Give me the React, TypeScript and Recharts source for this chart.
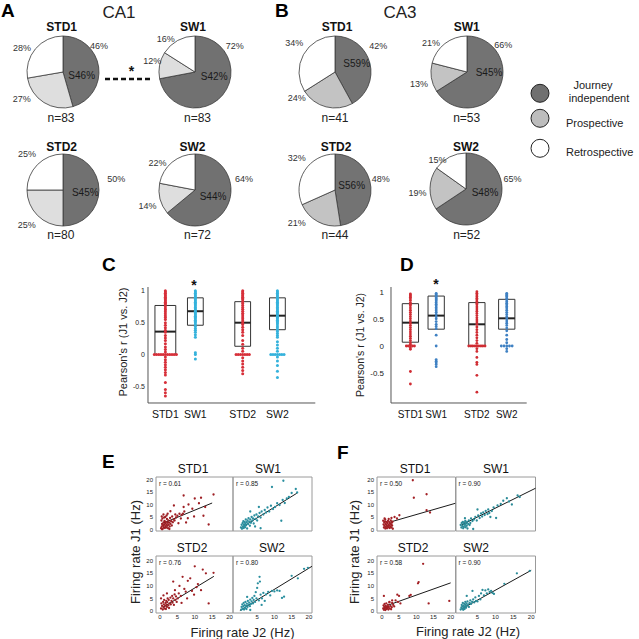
import React from 'react';
import {
  PieChart, Pie, Cell, ComposedChart, ScatterChart, Scatter,
  XAxis, YAxis, ReferenceArea, ReferenceLine,
} from 'recharts';

const FONT = "'Liberation Sans', Arial, Helvetica, sans-serif";

// ---------------- Panel A / B : pie data ----------------
const pieCategories = ['Journey independent', 'Prospective', 'Retrospective'];
const sessionNames = ['STD1', 'SW1', 'STD2', 'SW2'];

const ca1Std1 = [46, 27, 28];
const ca1Sw1 = [72, 12, 16];
const ca1Std2 = [50, 25, 25];
const ca1Sw2 = [64, 14, 22];
const ca1N = [83, 83, 80, 72];
const ca1S = [46, 42, 45, 44];

const ca3Std1 = [42, 24, 34];
const ca3Sw1 = [66, 13, 21];
const ca3Std2 = [48, 21, 32];
const ca3Sw2 = [65, 19, 15];
const ca3N = [41, 53, 44, 52];
const ca3S = [59, 45, 56, 48];

// ---------------- Panel C / D : Pearson's r ----------------
const boxGroups = ['STD1', 'SW1', 'STD2', 'SW2'];
const groupSlots = [1, 1.95, 3.45, 4.55];
const rTicks = [-0.5, 0, 0.5, 1];

const cQ1 = [0.0, 0.46, 0.13, 0.39];
const cMed = [0.36, 0.68, 0.5, 0.61];
const cQ3 = [0.77, 0.89, 0.83, 0.89];
const cStd1 = [1.0, 0.98, 0.96, 0.94, 0.92, 0.9, 0.88, 0.86, 0.84, 0.82, 0.8, 0.78, 0.75, 0.72, 0.7, 0.67, 0.64, 0.61, 0.58, 0.55, 0.5, 0.46, 0.42, 0.38, 0.35, 0.3, 0.26, 0.22, 0.17, 0.12, 0.08, 0.04, -0.04, -0.08, -0.12, -0.16, -0.2, -0.24, -0.28, -0.32, -0.44, -0.55, -0.6, -0.65];
const cSw1 = [1.0, 0.98, 0.96, 0.94, 0.92, 0.9, 0.88, 0.86, 0.84, 0.82, 0.8, 0.78, 0.76, 0.74, 0.72, 0.7, 0.68, 0.66, 0.64, 0.62, 0.6, 0.58, 0.56, 0.54, 0.52, 0.5, 0.47, 0.44, 0.41, 0.38, 0.35, 0.31, 0.27, 0.03, 0.0, -0.07];
const cStd2 = [1.0, 0.98, 0.96, 0.94, 0.92, 0.9, 0.88, 0.86, 0.83, 0.8, 0.77, 0.74, 0.71, 0.68, 0.65, 0.62, 0.59, 0.56, 0.53, 0.5, 0.47, 0.43, 0.39, 0.35, 0.3, 0.22, 0.16, 0.1, 0.05, -0.05, -0.1, -0.15, -0.2, -0.25, -0.3];
const cSw2 = [1.0, 0.98, 0.96, 0.94, 0.92, 0.9, 0.88, 0.86, 0.84, 0.82, 0.8, 0.78, 0.76, 0.74, 0.72, 0.7, 0.68, 0.66, 0.64, 0.62, 0.6, 0.58, 0.56, 0.54, 0.52, 0.5, 0.48, 0.45, 0.42, 0.39, 0.36, 0.33, 0.3, 0.27, 0.2, 0.15, 0.1, 0.05, -0.04, -0.1, -0.17, -0.26, -0.36];
const cZeroStd1 = [-0.35, -0.28, -0.21, -0.14, -0.07, 0, 0.07, 0.14, 0.21, 0.28, 0.35];
const cZeroSw1: number[] = [];
const cZeroStd2 = [-0.21, -0.14, -0.07, 0, 0.07, 0.14, 0.21];
const cZeroSw2 = [-0.21, -0.14, -0.07, 0, 0.07, 0.14, 0.21];

const dQ1 = [0.07, 0.31, 0.0, 0.31];
const dMed = [0.43, 0.56, 0.4, 0.51];
const dQ3 = [0.78, 0.92, 0.8, 0.86];
const dStd1 = [0.96, 0.94, 0.92, 0.9, 0.87, 0.84, 0.8, 0.77, 0.74, 0.7, 0.66, 0.62, 0.58, 0.54, 0.5, 0.46, 0.42, 0.38, 0.34, 0.3, 0.26, 0.22, 0.18, 0.14, 0.1, 0.06, 0.03, -0.03, -0.06, -0.47, -0.7];
const dSw1 = [0.97, 0.95, 0.93, 0.91, 0.89, 0.87, 0.85, 0.83, 0.8, 0.77, 0.74, 0.71, 0.68, 0.65, 0.62, 0.58, 0.54, 0.5, 0.45, 0.4, 0.36, 0.32, 0.2, 0.0, -0.25, -0.28, -0.31, -0.34, -0.38];
const dStd2 = [1.0, 0.97, 0.94, 0.91, 0.88, 0.85, 0.82, 0.79, 0.76, 0.72, 0.68, 0.64, 0.6, 0.56, 0.52, 0.48, 0.44, 0.4, 0.35, 0.3, 0.25, 0.2, 0.15, 0.1, 0.05, -0.05, -0.1, -0.21, -0.3, -0.34, -0.54, -0.85];
const dSw2 = [0.97, 0.95, 0.93, 0.91, 0.88, 0.85, 0.82, 0.79, 0.76, 0.73, 0.7, 0.66, 0.62, 0.58, 0.54, 0.5, 0.46, 0.42, 0.38, 0.33, 0.28, 0.2, 0.12, 0.06, -0.05, -0.1];
const dZeroStd1 = [-0.15, -0.08, 0, 0.08, 0.15];
const dZeroSw1: number[] = [];
const dZeroStd2 = [-0.3, -0.22, -0.15, -0.07, 0, 0.07, 0.15, 0.22, 0.3];
const dZeroSw2 = [-0.2, -0.1, 0, 0.1, 0.2];

// ---------------- Panel E / F : firing rates (x = J2, y = J1) ----------------
const rateTicks = [0, 5, 10, 15, 20];
const rateTicksRight = [5, 10, 15, 20];
const eR = ['0.61', '0.85', '0.76', '0.80'];
const fR = ['0.50', '0.90', '0.58', '0.90'];

const eStd1: number[][] = [[0.3,0.5],[0.5,1.2],[0.6,2.2],[0.8,0.3],[0.9,1.6],[1.0,2.8],[1.1,0.9],[1.2,1.9],[1.3,3.4],[1.4,0.6],[1.5,2.4],[1.6,1.3],[1.7,3.0],[1.8,0.8],[1.9,2.0],[2.0,4.2],[2.1,1.5],[2.2,2.7],[2.3,0.5],[2.4,3.6],[2.5,1.9],[2.6,2.8],[2.8,1.2],[2.9,4.6],[3.0,2.3],[3.2,3.3],[3.4,1.6],[3.5,5.2],[3.7,2.9],[3.9,4.0],[0.4,3.6],[0.5,5.2],[0.7,4.4],[1.0,6.0],[1.5,5.0],[2.2,6.3],[4.2,3.6],[4.4,6.0],[4.6,4.8],[5.0,5.5],[5.3,2.5],[5.6,6.3],[6.0,4.4],[6.2,5.8],[6.6,6.3],[7.0,7.2],[6.8,13.6],[4.0,9.6],[6.8,9.0],[8.2,10.0],[9.3,8.3],[9.8,5.2],[10.0,12.4],[11.2,10.5],[11.8,12.7],[12.5,5.5],[13.0,9.0],[14.0,2.0],[15.4,14.0],[8.0,4.5],[3.0,7.3],[7.5,2.8],[1.2,4.8],[2.7,0.2],[0.6,0.1],[1.9,5.6]];
const eSw1: number[][] = [[0.3,0.8],[0.5,1.9],[0.6,0.3],[0.8,2.6],[0.9,1.2],[1.0,3.3],[1.1,0.6],[1.2,2.0],[1.3,1.4],[1.4,3.0],[1.5,0.9],[1.6,2.4],[1.7,4.0],[1.8,1.7],[2.0,2.9],[2.1,0.4],[2.2,3.6],[2.4,2.2],[2.5,4.5],[2.7,3.1],[2.9,1.5],[3.0,4.0],[3.2,2.7],[3.4,5.0],[3.6,3.5],[3.8,4.4],[4.0,2.4],[4.2,5.6],[4.5,4.2],[4.8,6.0],[5.0,3.6],[5.3,5.2],[5.7,6.6],[6.0,4.8],[6.3,7.2],[6.8,6.0],[7.2,7.8],[7.6,6.8],[8.0,8.8],[8.5,7.2],[9.0,9.5],[9.6,8.2],[10.2,9.0],[10.8,10.5],[11.5,9.8],[12.0,3.5],[12.4,11.8],[13.0,10.6],[13.6,12.4],[14.2,13.0],[15.0,14.6],[16.2,16.2],[16.6,14.8],[12.6,19.5],[9.3,17.0],[6.0,0.5],[4.4,1.2],[3.0,7.2],[5.5,9.0]];
const eStd2: number[][] = [[0.3,1.0],[0.4,3.0],[0.3,5.0],[0.6,2.0],[0.8,0.6],[0.9,3.6],[1.0,1.5],[1.1,2.6],[1.2,4.4],[1.3,1.0],[1.5,2.1],[1.6,3.2],[1.7,0.8],[1.8,4.0],[1.9,2.5],[2.0,1.6],[2.1,3.5],[2.2,5.0],[2.4,2.2],[2.5,4.4],[2.6,1.2],[2.8,3.0],[3.0,5.3],[3.1,2.6],[3.3,4.0],[3.5,6.0],[3.6,3.3],[3.8,5.0],[4.0,2.4],[4.2,6.6],[4.4,4.4],[4.6,5.8],[4.8,3.6],[5.1,5.0],[5.4,7.0],[5.6,10.0],[6.0,6.0],[6.5,13.6],[7.0,8.8],[7.4,7.7],[8.0,12.0],[8.7,13.0],[9.2,8.0],[9.8,6.5],[10.0,17.8],[10.5,9.5],[10.9,10.7],[11.8,8.3],[12.3,16.5],[13.2,15.0],[14.0,3.0],[15.4,15.2],[4.3,8.3],[3.8,11.7],[2.0,7.0],[1.0,6.2],[6.2,3.2],[7.8,5.0]];
const eSw2: number[][] = [[0.4,0.5],[0.5,1.6],[0.7,2.6],[0.8,0.9],[1.0,1.9],[1.1,3.2],[1.2,0.6],[1.4,2.3],[1.5,1.2],[1.6,3.6],[1.8,2.0],[1.9,0.8],[2.0,2.9],[2.2,1.6],[2.3,4.0],[2.5,2.5],[2.7,3.3],[2.9,1.9],[3.0,4.5],[3.2,2.8],[3.4,3.8],[3.6,5.2],[3.8,3.0],[4.0,4.4],[4.2,6.0],[4.4,3.6],[4.6,7.5],[4.8,5.0],[5.0,9.2],[5.2,11.0],[5.7,13.6],[5.8,11.7],[5.5,4.2],[6.0,6.5],[6.4,5.0],[6.8,7.2],[7.2,4.0],[7.6,6.6],[8.2,7.6],[8.8,6.2],[9.3,8.0],[10.0,7.8],[10.8,8.2],[11.5,8.0],[12.2,5.2],[12.8,5.7],[15.0,14.0],[16.8,13.0],[18.6,16.8],[19.7,17.2],[3.0,0.4],[2.1,5.6],[6.3,2.4]];

const fStd1: number[][] = [[0.4,3.5],[0.5,2.0],[0.6,0.8],[0.7,2.8],[0.8,1.5],[0.9,3.2],[1.0,0.4],[1.1,2.2],[1.2,1.0],[1.3,3.0],[1.4,1.8],[1.5,0.5],[1.6,2.6],[1.7,1.3],[1.8,3.4],[1.9,0.9],[2.0,2.0],[2.1,1.5],[2.2,2.9],[2.3,0.6],[2.4,2.4],[2.5,1.2],[2.6,3.6],[2.7,1.9],[2.8,0.8],[2.9,2.7],[3.0,1.6],[3.1,3.1],[3.2,0.3],[2.0,4.2],[1.0,4.0],[3.7,5.0],[5.1,5.7],[4.4,4.4],[9.0,19.7],[9.3,12.7],[13.0,14.1],[13.0,7.7],[14.0,6.8],[0.8,4.4],[2.8,4.6]];
const fSw1: number[][] = [[0.3,1.8],[0.5,0.8],[0.6,2.6],[0.8,1.4],[0.9,3.0],[1.0,0.5],[1.1,2.2],[1.2,1.0],[1.3,2.8],[1.5,1.8],[1.6,3.4],[1.7,0.9],[1.8,2.4],[2.0,1.5],[2.1,3.0],[2.2,0.4],[2.4,2.2],[2.6,3.6],[2.8,1.8],[3.0,2.6],[3.2,4.4],[3.6,3.4],[4.0,4.0],[4.4,5.0],[4.8,3.6],[5.2,5.6],[5.6,4.6],[6.0,6.4],[6.3,5.2],[6.6,6.8],[7.0,5.8],[7.3,7.4],[7.8,6.2],[8.0,8.0],[8.3,6.6],[8.6,5.0],[9.0,7.4],[9.5,8.8],[10.2,4.6],[10.6,9.6],[11.5,10.2],[12.2,11.5],[13.2,12.5],[13.8,11.2],[14.6,10.0],[16.2,13.6],[16.8,13.0],[3.8,0.2],[5.0,8.0],[1.5,4.5]];
const fStd2: number[][] = [[0.4,1.0],[0.5,2.2],[0.6,0.5],[0.7,1.6],[0.8,2.8],[0.9,1.1],[1.0,0.4],[1.1,2.0],[1.2,1.4],[1.3,3.0],[1.4,0.8],[1.5,1.8],[1.7,1.2],[1.8,2.4],[1.9,0.6],[2.0,1.6],[2.2,3.4],[2.3,1.0],[2.5,2.0],[2.7,0.7],[2.9,1.5],[3.0,3.2],[3.3,2.4],[3.6,1.8],[4.0,4.2],[4.5,6.5],[5.0,6.0],[4.7,3.6],[5.4,3.0],[0.6,6.0],[2.2,3.6],[8.0,6.0],[8.4,6.4],[10.5,11.0],[10.7,11.5],[12.0,18.8],[13.6,3.0],[19.6,4.0],[3.0,4.2]];
const fSw2: number[][] = [[0.3,0.6],[0.5,1.4],[0.6,2.4],[0.7,0.9],[0.8,1.8],[0.9,3.2],[1.0,0.5],[1.1,2.0],[1.2,1.2],[1.3,2.8],[1.4,0.8],[1.5,1.8],[1.6,3.6],[1.7,2.4],[1.8,1.3],[1.9,3.0],[2.0,2.0],[2.2,3.8],[2.4,2.6],[2.6,1.6],[2.8,3.2],[3.0,4.2],[3.2,2.8],[3.5,3.6],[3.8,4.6],[4.1,3.4],[4.4,5.4],[4.6,4.0],[5.0,3.8],[5.4,6.0],[5.8,4.6],[6.0,7.0],[6.4,8.4],[6.8,6.2],[7.2,8.2],[7.6,7.0],[8.0,8.6],[8.4,7.6],[8.8,8.0],[9.2,7.2],[9.6,6.8],[12.5,10.8],[16.0,15.0],[19.6,16.0],[3.6,8.0],[2.0,6.0]];

const eFitStd1 = [[1, 2.6], [15, 10.6]];
const eFitSw1 = [[0.5, 0.8], [16.5, 14.5]];
const eFitStd2 = [[1, 1.6], [15.5, 13.8]];
const eFitSw2 = [[0, 0.2], [20.9, 17.8]];
const fFitStd1 = [[2.5, 3.0], [21.4, 10.5]];
const fFitSw1 = [[0.5, 1.8], [21.2, 16.5]];
const fFitStd2 = [[2.0, 2.4], [20, 11.2]];
const fFitSw2 = [[0.8, 1.0], [20, 16.2]];

// ---------------- helpers ----------------
function Txt({ x, y, children, size = 10, weight = 400, anchor = 'middle', color = '#222', rotate = 0 }: any) {
  const tx = anchor === 'middle' ? '-50%' : anchor === 'end' ? '-100%' : '0';
  return (
    <div style={{
      position: 'absolute', left: x, top: y, fontFamily: FONT, fontSize: size, fontWeight: weight,
      color, lineHeight: 1, whiteSpace: 'nowrap',
      transform: `translate(${tx},-50%)${rotate ? ` rotate(${rotate}deg)` : ''}`,
    }}>{children}</div>
  );
}

function PieBox({ cx, cy, values, colors }: { cx: number; cy: number; values: number[]; colors: string[] }) {
  const data = pieCategories.map((name, i) => ({ name, value: values[i] }));
  return (
    <div style={{ position: 'absolute', left: cx - 40, top: cy - 40 }}>
      <PieChart width={80} height={80} margin={{ top: 0, right: 0, bottom: 0, left: 0 }}>
        <Pie data={data} dataKey="value" nameKey="name" cx={40} cy={40} outerRadius={36}
          startAngle={90} endAngle={-270} stroke="#3a3a3a" strokeWidth={0.8} isAnimationActive={false}>
          {data.map((d, i) => <Cell key={d.name} fill={colors[i]} />)}
        </Pie>
      </PieChart>
    </div>
  );
}

const ca1Colors = ['#717171', '#dedede', '#ffffff'];
const ca3Colors = ['#737373', '#c3c3c3', '#ffffff'];

// layout (positions only)
const pieLayoutA = [
  { c: [62.5, 72], t: [61.7, 26.7], l: [[99, 46], [21.7, 99], [22, 48]], s: [81.7, 75.8], n: [61, 118.3] },
  { c: [195, 72], t: [193, 26.7], l: [[234.7, 46.3], [152.2, 61.3], [165.8, 38.8]], s: [214.2, 77.2], n: [197.5, 118.3] },
  { c: [63, 190], t: [61.7, 146.7], l: [[116.3, 178.8], [26.7, 224.7], [27, 153.7]], s: [85.3, 193.3], n: [60.8, 235] },
  { c: [195, 190], t: [192.5, 146.7], l: [[244, 178.8], [147.5, 206.3], [157.5, 163.3]], s: [213, 197], n: [197.5, 235] },
];
const pieLayoutB = [
  { c: [335, 72], t: [337, 26.7], l: [[378.3, 46.3], [296.7, 98.3], [294.2, 43.3]], s: [356.7, 64], n: [335, 118.3] },
  { c: [467, 72], t: [466.7, 26.7], l: [[503.3, 45], [419, 83.7], [431, 43.3]], s: [489, 73.3], n: [466.7, 118.3] },
  { c: [335, 190], t: [336, 147], l: [[380.8, 178.8], [296.7, 223.3], [296.7, 158.3]], s: [351.7, 185.8], n: [335, 235] },
  { c: [466, 189], t: [466, 147], l: [[512.5, 178.8], [417.5, 193], [437.5, 160]], s: [485, 192.5], n: [466.7, 235] },
];

function PieSet({ layout, vals, ns, ss, colors }: any) {
  return (
    <>
      {layout.map((L: any, i: number) => (
        <React.Fragment key={i}>
          <PieBox cx={L.c[0]} cy={L.c[1]} values={vals[i]} colors={colors} />
          <Txt x={L.t[0]} y={L.t[1]} size={12} weight={700} color="#111">{sessionNames[i]}</Txt>
          {L.l.map((p: number[], k: number) => (
            <Txt key={k} x={p[0]} y={p[1]} size={9} color="#333">{vals[i][k]}%</Txt>
          ))}
          <Txt x={L.s[0]} y={L.s[1]} size={10} color="#1a1a1a">S{ss[i]}%</Txt>
          <Txt x={L.n[0]} y={L.n[1]} size={12} color="#222">n={ns[i]}</Txt>
        </React.Fragment>
      ))}
    </>
  );
}

function buildPoints(slot: number, vals: number[], zero: number[]) {
  return vals.map((v) => ({ x: slot, y: v })).concat(zero.map((o) => ({ x: slot + o, y: 0 })));
}

function BoxStrip({ left, top, plotW, plotH, yAxisW, yTickGap, xDomain, yDomain, q1, med, q3, vals, zeros, colors, halfW, tickFont, catFont, pointR }: any) {
  const xH = 22;
  return (
    <div style={{ position: 'absolute', left: left - yAxisW, top }}>
      <ComposedChart width={plotW + yAxisW} height={plotH + xH} margin={{ top: 0, right: 0, bottom: 0, left: 0 }}>
        <XAxis type="number" dataKey="x" domain={xDomain} allowDataOverflow ticks={groupSlots} interval={0}
          tickFormatter={(v: number) => boxGroups[groupSlots.indexOf(v)]} height={xH}
          axisLine={{ stroke: '#555' }} tickLine={false} tickSize={6} tickMargin={2}
          tick={{ fontSize: catFont, fill: '#111', fontFamily: FONT }} />
        <YAxis type="number" dataKey="y" domain={yDomain} allowDataOverflow ticks={rTicks} interval={0}
          width={yAxisW} axisLine={{ stroke: '#555' }} tickLine={false} tickSize={yTickGap} tickMargin={2}
          tickFormatter={(v: number) => String(v)}
          tick={{ fontSize: tickFont, fill: '#222', fontFamily: FONT }} />
        {boxGroups.map((g, i) => (
          <Scatter key={'s' + g} name={g} data={buildPoints(groupSlots[i], vals[i], zeros[i])} isAnimationActive={false}
            shape={(p: any) => <circle cx={p.cx} cy={p.cy} r={pointR} fill={colors[i % 2]} />} />
        ))}
        {boxGroups.map((g, i) => (
          <ReferenceArea key={'b' + g} x1={groupSlots[i] - halfW[i]} x2={groupSlots[i] + halfW[i]} y1={q1[i]} y2={q3[i]}
            fill="none" fillOpacity={0} stroke="#333" strokeWidth={1} />
        ))}
        {boxGroups.map((g, i) => (
          <ReferenceLine key={'m' + g} segment={[{ x: groupSlots[i] - halfW[i], y: med[i] }, { x: groupSlots[i] + halfW[i], y: med[i] }]}
            stroke="#222" strokeWidth={2} />
        ))}
      </ComposedChart>
    </div>
  );
}

function ScatterCell({ left, top, w, h, xDomain, yDomain, pts, fit, color, showY, showX, xTicks }: any) {
  const yW = showY ? 20 : 0;
  const xH = showX ? 10 : 0;
  const data = pts.map((p: number[]) => ({ x: p[0], y: p[1] }));
  return (
    <div style={{ position: 'absolute', left: left - yW, top }}>
      <ScatterChart width={w + yW} height={h + xH} margin={{ top: 0, right: 0, bottom: 0, left: 0 }}>
        <XAxis type="number" dataKey="x" domain={xDomain} allowDataOverflow ticks={xTicks} interval={0}
          hide={!showX} height={xH} axisLine={false} tickLine={false} tickSize={1} tickMargin={0.5}
          tick={{ fontSize: 6, fill: '#222', fontFamily: FONT }} />
        <YAxis type="number" dataKey="y" domain={yDomain} allowDataOverflow ticks={rateTicks} interval={0}
          hide={!showY} width={yW} axisLine={false} tickLine={false} tickSize={1} tickMargin={2}
          tick={{ fontSize: 6, fill: '#222', fontFamily: FONT }} />
        <ReferenceArea x1={xDomain[0]} x2={xDomain[1]} y1={yDomain[0]} y2={yDomain[1]}
          fill="none" fillOpacity={0} stroke="#9a9a9a" strokeWidth={1} />
        <Scatter data={data} isAnimationActive={false}
          shape={(p: any) => <circle cx={p.cx} cy={p.cy} r={1.15} fill={color} />} />
        <ReferenceLine segment={[{ x: fit[0][0], y: fit[0][1] }, { x: fit[1][0], y: fit[1][1] }]} stroke="#1a1a1a" strokeWidth={1} />
      </ScatterChart>
    </div>
  );
}

const rowTop = { top: 477, h: 54, dom: [-0.6, 21.0] };
const rowBot = { top: 556, h: 57, dom: [-0.8, 21.9] };

function RatePanel({ stdX, stdW, stdDom, swX, swW, swDom, sets, fits, rs, stdColor, swColor, titles }: any) {
  const cells = [
    { x: stdX, w: stdW, dom: stdDom, row: rowTop, showY: true, showX: false, color: stdColor },
    { x: swX, w: swW, dom: swDom, row: rowTop, showY: false, showX: false, color: swColor },
    { x: stdX, w: stdW, dom: stdDom, row: rowBot, showY: true, showX: true, color: stdColor },
    { x: swX, w: swW, dom: swDom, row: rowBot, showY: false, showX: true, color: swColor },
  ];
  return (
    <>
      {cells.map((c, i) => (
        <React.Fragment key={i}>
          <ScatterCell left={c.x} top={c.row.top} w={c.w} h={c.row.h} xDomain={c.dom} yDomain={c.row.dom}
            pts={sets[i]} fit={fits[i]} color={c.color} showY={c.showY} showX={c.showX}
            xTicks={i % 2 === 0 ? rateTicks : rateTicksRight} />
          <Txt x={c.x + 3} y={c.row.top + 7} size={6.5} anchor="start" color="#222">r = {rs[i]}</Txt>
          <Txt x={titles[i][0]} y={titles[i][1]} size={12} color="#111">{sessionNames[i]}</Txt>
        </React.Fragment>
      ))}
    </>
  );
}

export default function App() {
  return (
    <div style={{ position: 'absolute', left: 0, top: 0, width: 639, height: 639, background: '#fff', overflow: 'hidden', fontFamily: FONT }}>
      <style>{'.recharts-surface{overflow:visible}'}</style>
      {/* Panel letters and headers */}
      <Txt x={1} y={10} size={19} weight={700} anchor="start" color="#000">A</Txt>
      <Txt x={119} y={12} size={17} color="#222">CA1</Txt>
      <Txt x={275} y={10} size={19} weight={700} anchor="start" color="#000">B</Txt>
      <Txt x={400} y={12} size={17} color="#222">CA3</Txt>

      <PieSet layout={pieLayoutA} vals={[ca1Std1, ca1Sw1, ca1Std2, ca1Sw2]} ns={ca1N} ss={ca1S} colors={ca1Colors} />
      <PieSet layout={pieLayoutB} vals={[ca3Std1, ca3Sw1, ca3Std2, ca3Sw2]} ns={ca3N} ss={ca3S} colors={ca3Colors} />

      {/* significance between STD1 and SW1 (CA1), legend swatches */}
      <svg style={{ position: 'absolute', left: 0, top: 0 }} width={639} height={260}>
        <line x1={105} y1={79} x2={153} y2={79} stroke="#111" strokeWidth={2.4} strokeDasharray="5 3" />
        {['#707070', '#bdbdbd', '#ffffff'].map((col, i) => (
          <circle key={i} cx={540} cy={[93.3, 118.3, 148.3][i]} r={9} fill={col} stroke="#222" strokeWidth={1} />
        ))}
      </svg>
      <Txt x={131.5} y={71} size={14} weight={700} color="#111">*</Txt>

      {/* legend text */}
      <Txt x={593} y={85} size={11} color="#222">Journey</Txt>
      <Txt x={599} y={98} size={11} color="#222">independent</Txt>
      <Txt x={566} y={123} size={11} anchor="start" color="#222">{pieCategories[1]}</Txt>
      <Txt x={566} y={151.5} size={11} anchor="start" color="#222">{pieCategories[2]}</Txt>

      {/* Panel C */}
      <Txt x={102} y={264} size={19} weight={700} anchor="start" color="#000">C</Txt>
      <BoxStrip left={147.7} top={287} plotW={167.3} plotH={116} yAxisW={30} yTickGap={1}
        xDomain={[0.45, 5.75]} yDomain={[-0.76, 1.06]} q1={cQ1} med={cMed} q3={cQ3}
        vals={[cStd1, cSw1, cStd2, cSw2]} zeros={[cZeroStd1, cZeroSw1, cZeroStd2, cZeroSw2]}
        colors={['#d7303a', '#35b2dc']} halfW={[0.33, 0.25, 0.25, 0.25]} tickFont={7} catFont={10.5} pointR={1.5} />
      <Txt x={122.5} y={342} size={11} rotate={-90} color="#222">Pearson's r (J1 vs. J2)</Txt>
      <Txt x={194} y={285} size={14} weight={700} color="#111">*</Txt>

      {/* Panel D */}
      <Txt x={400} y={264} size={19} weight={700} anchor="start" color="#000">D</Txt>
      <BoxStrip left={391} top={287} plotW={135.7} plotH={116} yAxisW={30} yTickGap={5}
        xDomain={[0.285, 5.285]} yDomain={[-1.05, 1.087]} q1={dQ1} med={dMed} q3={dQ3}
        vals={[dStd1, dSw1, dStd2, dSw2]} zeros={[dZeroStd1, dZeroSw1, dZeroStd2, dZeroSw2]}
        colors={['#d02c33', '#3f81c3']} halfW={[0.3, 0.3, 0.3, 0.3]} tickFont={8} catFont={10} pointR={1.4} />
      <Txt x={360} y={345} size={10.5} rotate={-90} color="#222">Pearson's r (J1 vs. J2)</Txt>
      <Txt x={436} y={284} size={14} weight={700} color="#111">*</Txt>

      {/* Panel E */}
      <Txt x={102} y={461} size={19} weight={700} anchor="start" color="#000">E</Txt>
      <RatePanel stdX={156} stdW={77} stdDom={[-1.15, 21]} swX={233} swW={79} swDom={[-2, 20.9]}
        sets={[eStd1, eSw1, eStd2, eSw2]} fits={[eFitStd1, eFitSw1, eFitStd2, eFitSw2]} rs={eR}
        stdColor="#9e1f24" swColor="#2a8f9f"
        titles={[[193, 469], [268, 469], [192, 548], [272, 548]]} />
      <Txt x={135} y={552} size={13} rotate={-90} color="#222">Firing rate J1 (Hz)</Txt>
      <Txt x={242.5} y={631.5} size={13} color="#222">Firing rate J2 (Hz)</Txt>

      {/* Panel F */}
      <Txt x={337} y={452} size={19} weight={700} anchor="start" color="#000">F</Txt>
      <RatePanel stdX={377} stdW={78.5} stdDom={[-1.4, 21.4]} swX={455.5} swW={79.5} swDom={[-1, 21.2]}
        sets={[fStd1, fSw1, fStd2, fSw2]} fits={[fFitStd1, fFitSw1, fFitStd2, fFitSw2]} rs={fR}
        stdColor="#a32025" swColor="#2a8b98"
        titles={[[415, 469], [496, 469], [413, 548], [476, 548]]} />
      <Txt x={354} y={552} size={13} rotate={-90} color="#222">Firing rate J1 (Hz)</Txt>
      <Txt x={468} y={631} size={13} color="#222">Firing rate J2 (Hz)</Txt>
    </div>
  );
}
